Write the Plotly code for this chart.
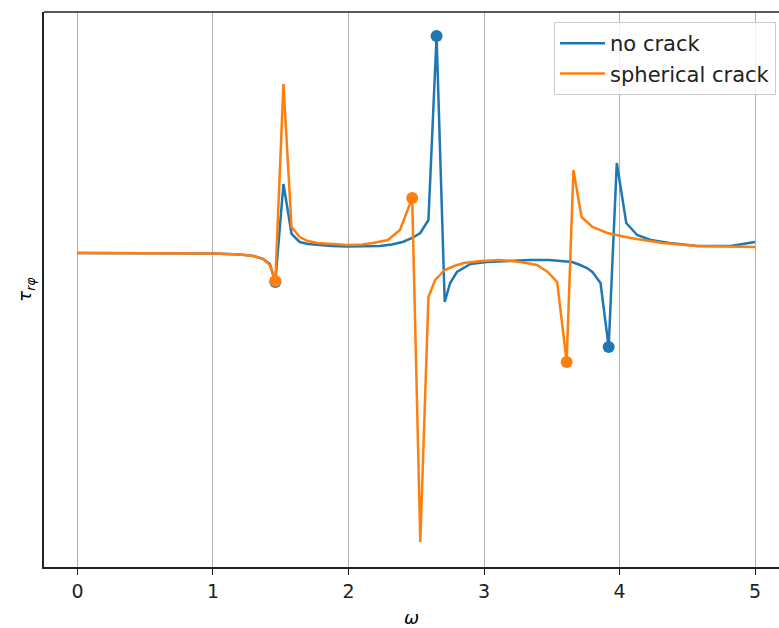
import plotly.graph_objects as go

# ---- data (y in arbitrary units) ----
x_no_crack = [0.0, 0.5, 1.0, 1.2, 1.3, 1.37, 1.42, 1.46, 1.52, 1.58, 1.64, 1.70, 1.77, 1.88, 1.99,
              2.12, 2.23, 2.32, 2.40, 2.47, 2.53, 2.59, 2.65, 2.71, 2.75, 2.80, 2.90, 3.02, 3.18, 3.34, 3.48, 3.58,
              3.65, 3.71, 3.76, 3.80, 3.86, 3.92, 3.98, 4.05, 4.13, 4.23, 4.37, 4.57, 4.82, 5.00]
y_no_crack = [0.0, 0.0, -0.005, -0.015, -0.03, -0.06, -0.11, -0.29, 0.69, 0.19, 0.11, 0.09, 0.08, 0.07,
              0.065, 0.065, 0.07, 0.085, 0.11, 0.15, 0.20, 0.33, 2.17, -0.49, -0.30, -0.19, -0.11, -0.09,
              -0.08, -0.07, -0.07, -0.08, -0.09, -0.12, -0.15, -0.19, -0.30, -0.94, 0.90, 0.30, 0.18,
              0.13, 0.10, 0.07, 0.07, 0.11]

x_sph = [0.0, 0.5, 1.0, 1.2, 1.3, 1.37, 1.42, 1.46, 1.52, 1.58, 1.64, 1.70, 1.77, 1.88, 1.99, 2.10,
         2.18, 2.29, 2.38, 2.47, 2.53, 2.59, 2.64, 2.71, 2.78, 2.85, 2.98, 3.12, 3.27, 3.39, 3.47, 3.54,
         3.61, 3.66, 3.72, 3.80, 3.91, 4.08, 4.32, 4.57, 4.82, 5.00]
y_sph = [0.0, 0.0, -0.005, -0.015, -0.03, -0.06, -0.12, -0.28, 1.69, 0.26, 0.16, 0.12, 0.10, 0.09,
         0.08, 0.085, 0.10, 0.13, 0.23, 0.55, -2.89, -0.44, -0.27, -0.17, -0.13, -0.10, -0.08, -0.07,
         -0.09, -0.12, -0.19, -0.29, -1.09, 0.83, 0.36, 0.26, 0.20, 0.15, 0.10, 0.07, 0.06, 0.06]

mark_no_crack_x = [1.46, 2.65, 3.92]
mark_no_crack_y = [-0.29, 2.17, -0.94]
mark_sph_x = [1.46, 2.47, 3.61]
mark_sph_y = [-0.28, 0.55, -1.09]

x_ticks = [0, 1, 2, 3, 4, 5]

BLUE = "#1f77b4"
ORANGE = "#ff7f0e"
FONT = "DejaVu Sans"

fig = go.Figure()
fig.add_trace(go.Scatter(x=x_no_crack, y=y_no_crack, mode="lines", name="no crack",
                         line=dict(color=BLUE, width=2.5)))
fig.add_trace(go.Scatter(x=mark_no_crack_x, y=mark_no_crack_y, mode="markers", showlegend=False,
                         marker=dict(color=BLUE, size=12)))
fig.add_trace(go.Scatter(x=x_sph, y=y_sph, mode="lines", name="spherical crack",
                         line=dict(color=ORANGE, width=2.5)))
fig.add_trace(go.Scatter(x=mark_sph_x, y=mark_sph_y, mode="markers", showlegend=False,
                         marker=dict(color=ORANGE, size=12)))

fig.update_layout(
    width=779, height=628,
    margin=dict(l=44, r=0, t=12, b=61),
    paper_bgcolor="white", plot_bgcolor="white",
    font=dict(family=FONT, size=19, color="black"),
    showlegend=True,
    legend=dict(x=0.996, y=0.982, xanchor="right", yanchor="top",
                bgcolor="rgba(255,255,255,0.8)", bordercolor="#cccccc", borderwidth=1,
                font=dict(family=FONT, size=21, color="#222222"),
                itemwidth=45, tracegroupgap=0),
    xaxis=dict(range=[-0.247, 5.177], tickvals=x_ticks, ticktext=[str(t) for t in x_ticks],
               showgrid=True, gridcolor="#b0b0b0", gridwidth=1,
               showline=True, linecolor="#222222", linewidth=1.5,
               ticks="outside", ticklen=6, tickcolor="#222222", tickwidth=1.2,
               zeroline=False,
               tickfont=dict(family=FONT, size=19, color="#222222"),
               title=dict(text="<i>ω</i>", font=dict(family=FONT, size=18), standoff=12)),
    yaxis=dict(range=[-3.14, 2.41], showticklabels=False, ticks="",
               showgrid=False, zeroline=False,
               showline=True, linecolor="#222222", linewidth=1.5,
               title=dict(text="<i>τ<sub>rφ</sub></i>", font=dict(family=FONT, size=18), standoff=6)),
    shapes=[dict(type="line", xref="paper", yref="paper", x0=0, x1=1, y0=1, y1=1,
                 line=dict(color="#222222", width=1.5))],
)

fig.write_html("out.html")
